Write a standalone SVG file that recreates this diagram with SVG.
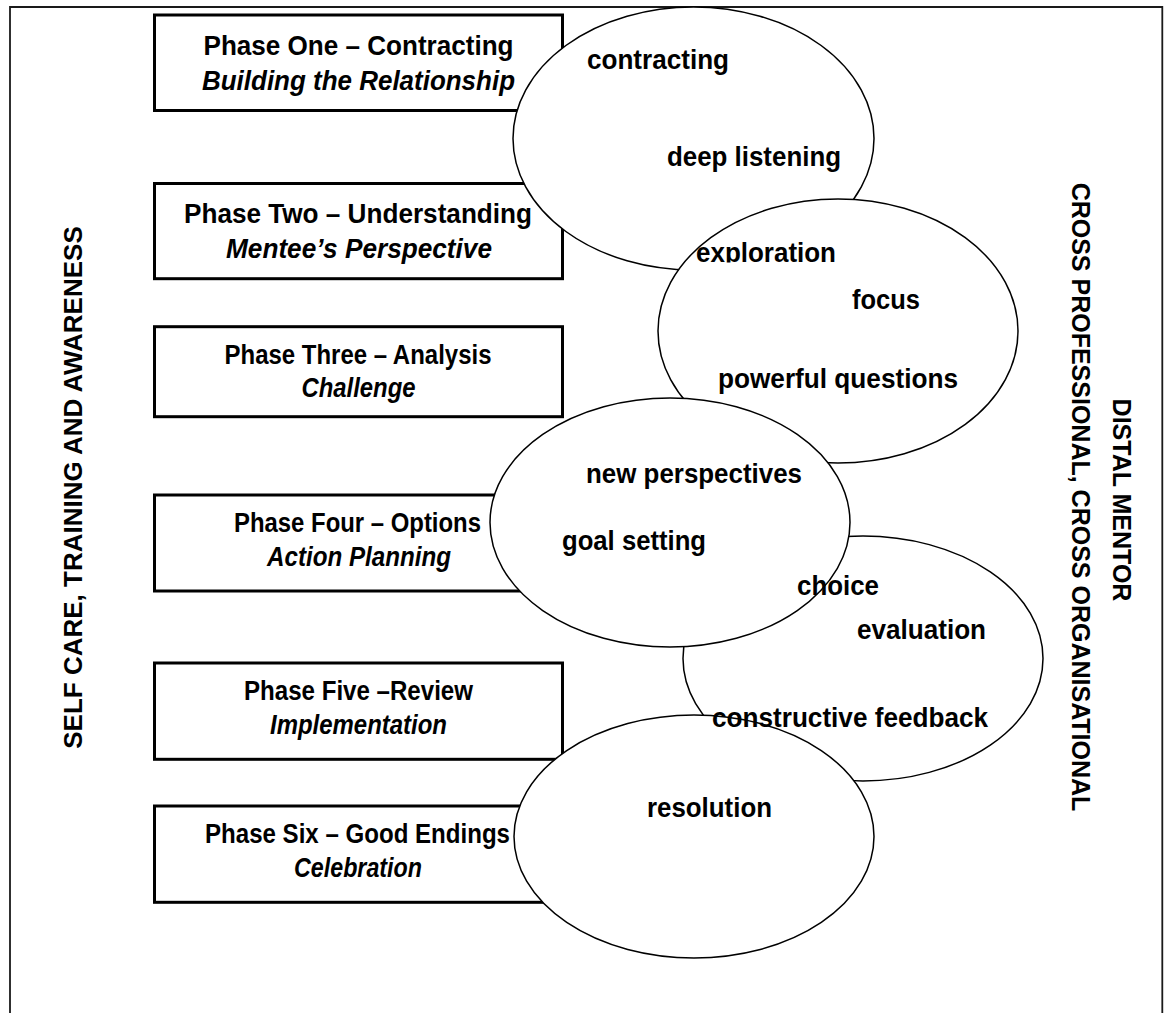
<svg xmlns="http://www.w3.org/2000/svg" width="1165" height="1013" viewBox="0 0 1165 1013">
<defs>
<style>
.frame{fill:none;stroke:#1a1a1a;stroke-width:1.8}
.box{fill:#fff;stroke:#000;stroke-width:3}
.stage{fill:#fff;stroke:#000;stroke-width:1.5}
text{font-family:"Liberation Sans",Arial,sans-serif;font-weight:bold;font-size:27px;fill:#000}
.c{text-anchor:middle}
.i{font-style:italic}
.side{font-size:26px}
.r{font-size:25px}
</style>
<clipPath id="clipExp"><rect x="670" y="200" width="220" height="62.5"/></clipPath>
</defs>
<rect width="1165" height="1013" fill="#fff"/>
<path class="frame" d="M10,1013 V7 H1162.3 V1013"/>

<g id="phase-1"><rect class="box" x="154.5" y="15" width="408" height="95.5"/><text class="c" x="358.5" y="55" textLength="310" lengthAdjust="spacingAndGlyphs">Phase One – Contracting</text><text class="c i" x="358.5" y="90" textLength="313" lengthAdjust="spacingAndGlyphs">Building the Relationship</text></g>
<g id="phase-2"><rect class="box" x="154.5" y="183.5" width="408" height="95.2"/><text class="c" x="358" y="223" textLength="348" lengthAdjust="spacingAndGlyphs">Phase Two – Understanding</text><text class="c i" x="359" y="258" textLength="266" lengthAdjust="spacingAndGlyphs">Mentee’s Perspective</text></g>
<g id="phase-3"><rect class="box" x="154.5" y="326.7" width="408" height="90"/><text class="c" x="358" y="364" textLength="267" lengthAdjust="spacingAndGlyphs">Phase Three – Analysis</text><text class="c i" x="358.5" y="397" textLength="114" lengthAdjust="spacingAndGlyphs">Challenge</text></g>
<g id="phase-4"><rect class="box" x="154.5" y="495" width="408" height="96"/><text class="c" x="357.5" y="532" textLength="247" lengthAdjust="spacingAndGlyphs">Phase Four – Options</text><text class="c i" x="359" y="566" textLength="184" lengthAdjust="spacingAndGlyphs">Action Planning</text></g>
<g id="phase-5"><rect class="box" x="154.5" y="663" width="408" height="96.3"/><text class="c" x="358.5" y="700" textLength="229" lengthAdjust="spacingAndGlyphs">Phase Five –Review</text><text class="c i" x="358.5" y="734" textLength="177" lengthAdjust="spacingAndGlyphs">Implementation</text></g>
<g id="phase-6"><rect class="box" x="154.5" y="806" width="408" height="96.3"/><text class="c" x="357.5" y="843" textLength="305" lengthAdjust="spacingAndGlyphs">Phase Six – Good Endings</text><text class="c i" x="358" y="877" textLength="128" lengthAdjust="spacingAndGlyphs">Celebration</text></g>

<g id="stage-1"><ellipse class="stage" cx="693.5" cy="138.5" rx="180.5" ry="131.5"/></g>
<g id="stage-2"><ellipse class="stage" cx="838" cy="331" rx="180" ry="132"/></g>
<g id="stage-4"><ellipse class="stage" cx="863" cy="658.5" rx="180" ry="122.5"/></g>
<g id="stage-3"><ellipse class="stage" cx="670" cy="522.5" rx="180" ry="124.5"/></g>
<g id="stage-5"><ellipse class="stage" cx="694" cy="836.5" rx="180" ry="121.5"/></g>

<g id="connectors"></g>

<g id="stage-1-labels"><text class="c" x="658" y="69" textLength="142" lengthAdjust="spacingAndGlyphs">contracting</text><text class="c" x="754" y="166" textLength="174" lengthAdjust="spacingAndGlyphs">deep listening</text></g>
<g id="stage-2-labels"><text class="c" x="766" y="262" textLength="140" lengthAdjust="spacingAndGlyphs" clip-path="url(#clipExp)">exploration</text><text class="c" x="886" y="309" textLength="68" lengthAdjust="spacingAndGlyphs">focus</text><text class="c" x="838" y="388" textLength="240" lengthAdjust="spacingAndGlyphs">powerful questions</text></g>
<g id="stage-3-labels"><text class="c" x="694" y="483" textLength="216" lengthAdjust="spacingAndGlyphs">new perspectives</text><text class="c" x="634" y="550" textLength="144" lengthAdjust="spacingAndGlyphs">goal setting</text></g>
<g id="stage-4-labels"><text class="c" x="838" y="595" textLength="82" lengthAdjust="spacingAndGlyphs">choice</text><text class="c" x="921.5" y="639" textLength="129" lengthAdjust="spacingAndGlyphs">evaluation</text><text class="c" x="850" y="727" textLength="276" lengthAdjust="spacingAndGlyphs">constructive feedback</text></g>
<g id="stage-5-labels"><text class="c" x="709.5" y="817" textLength="125" lengthAdjust="spacingAndGlyphs">resolution</text></g>

<g id="side-left"><text class="c side" transform="translate(82,487.5) rotate(-90)">SELF CARE, TRAINING AND AWARENESS</text></g>
<g id="side-right"><text class="c r" transform="translate(1113,500) rotate(90)">DISTAL MENTOR</text><text class="c r" transform="translate(1072,497) rotate(90)">CROSS PROFESSIONAL, CROSS ORGANISATIONAL</text></g>
</svg>
